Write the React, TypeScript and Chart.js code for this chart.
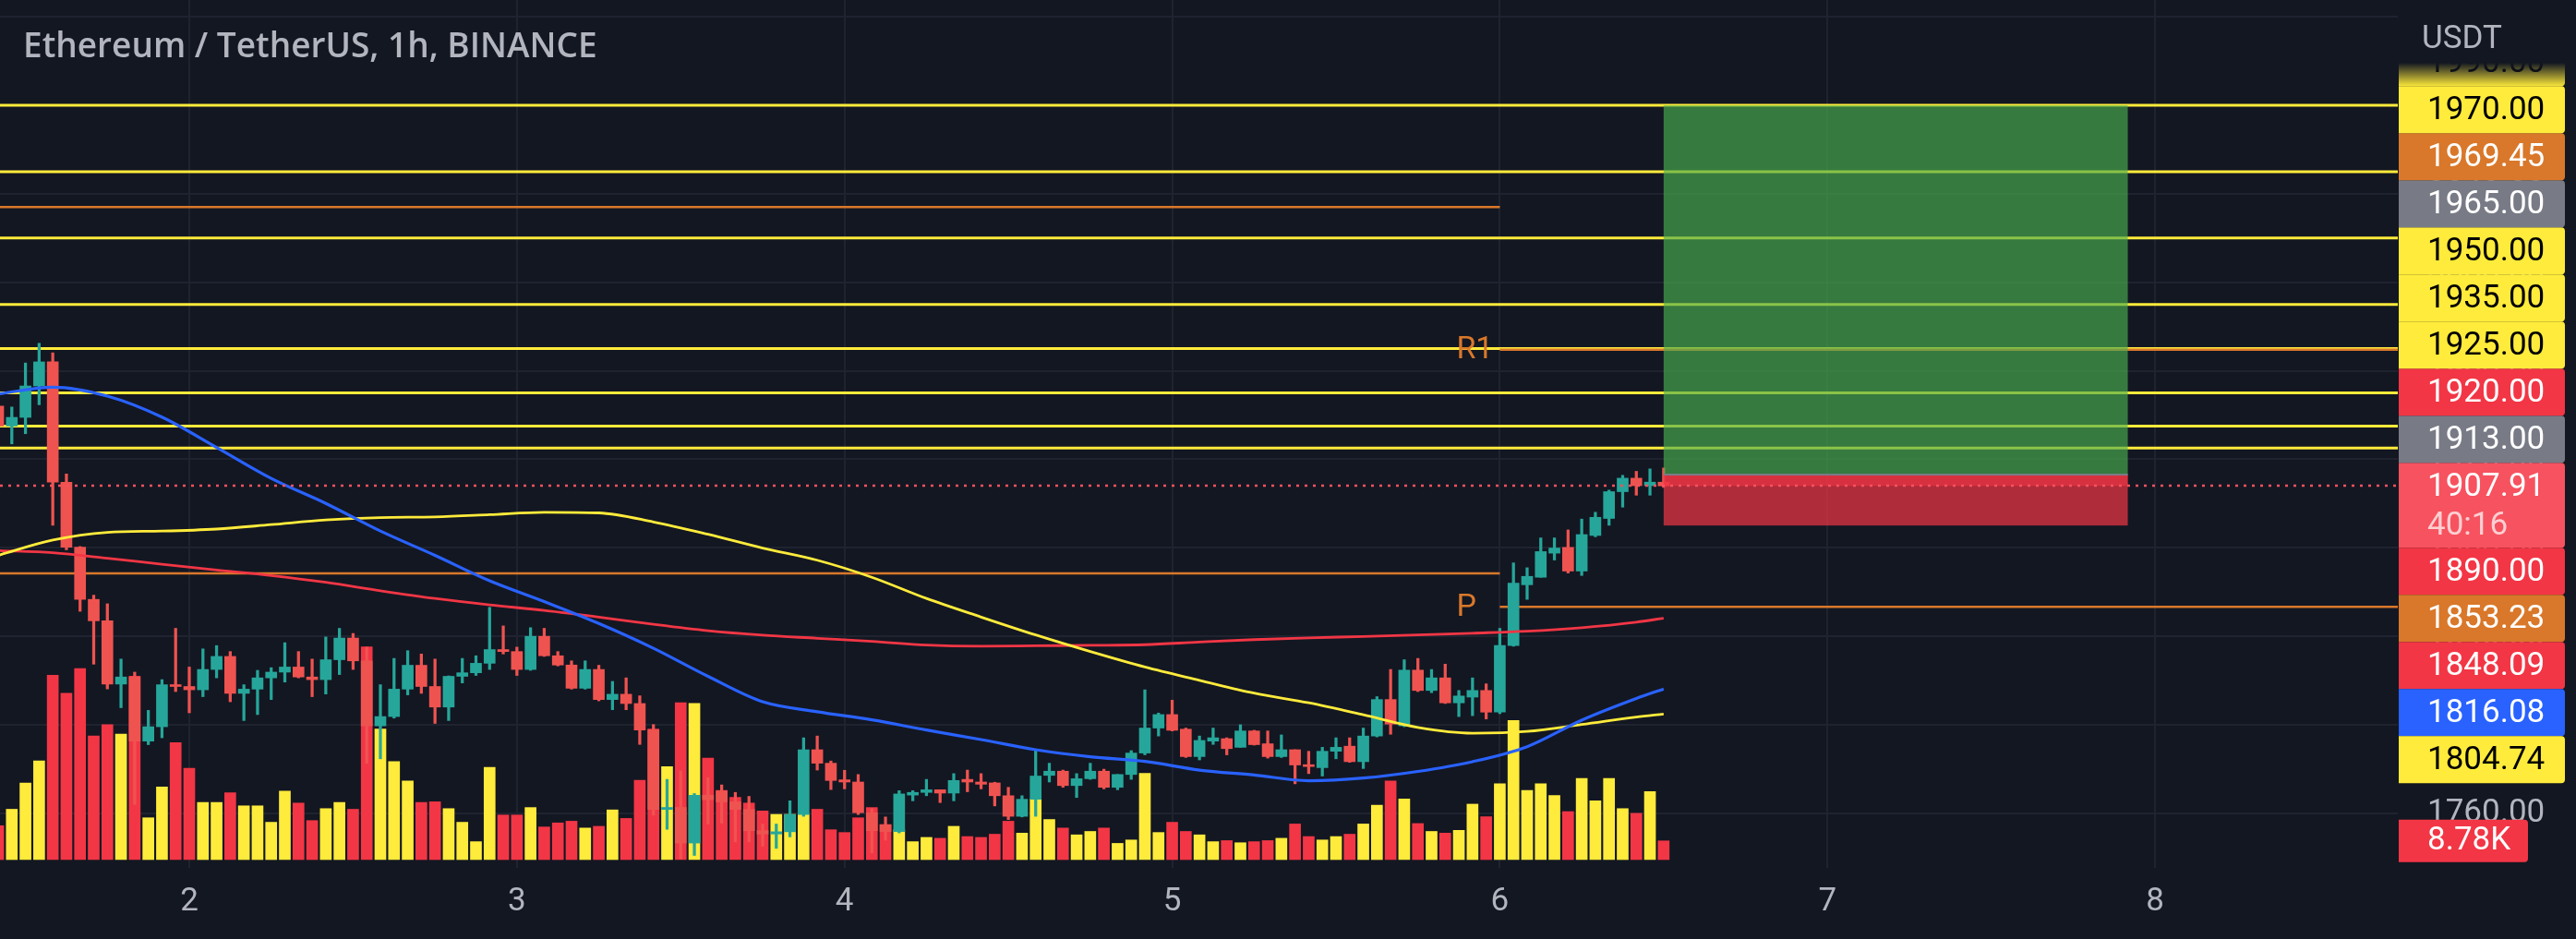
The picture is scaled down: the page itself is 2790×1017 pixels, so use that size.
import React, { useEffect, useRef } from 'react';
import { Chart, registerables } from 'chart.js';

Chart.register(...registerables);

// ---------------- data ----------------
const TITLE = 'Ethereum / TetherUS, 1h, BINANCE';
const QUOTE = 'USDT';
const COUNTDOWN = '40:16';

// candle index 0 = hour 10 counted from day 1 00:00 (hourly candles)
const FIRST_CANDLE_HOUR = 10;

const opens = [
  1944, 1935, 1938.9, 1953.1, 1964, 1909.6, 1880.2, 1856.6, 1846.9, 1818.3,
  1821.5, 1792.5, 1799, 1818, 1817.2, 1815.7, 1824.9, 1830.8, 1814.1, 1816,
  1821.1, 1823.7, 1826, 1821.5, 1820.3, 1829.3, 1839.1, 1828.8, 1799.4, 1803.6,
  1816, 1826.8, 1817.2, 1807.9, 1821.8, 1823.4, 1827.7, 1833.9, 1833, 1824.9,
  1839.9, 1831.1, 1826.9, 1816.4, 1824.9, 1811.3, 1813.7, 1809.5, 1797.5, 1761.6,
  1762.5, 1746.4, 1768, 1770, 1765, 1761.6, 1752, 1750.5, 1751.5, 1759.3,
  1788.6, 1782.5, 1775, 1774, 1760.1, 1754.7, 1751.6, 1768.1, 1769.3, 1770.5,
  1769, 1775.2, 1774, 1773.6, 1767.8, 1758.5, 1766.2, 1777, 1778.9, 1772.4,
  1775.5, 1778.9, 1771.6, 1777.4, 1787.1, 1798.4, 1804.5, 1797.9, 1785.5, 1792.5,
  1793.6, 1789.7, 1797.1, 1791.3, 1785.5, 1788.6, 1781.7, 1780.5, 1787.9, 1790.2,
  1783.2, 1794.8, 1811.3, 1799.4, 1824.6, 1815.4, 1821.1, 1809.8, 1812.4, 1815.4,
  1805.6, 1835.7, 1863.2, 1866.6, 1877.5, 1880.1, 1869.4, 1885.5, 1893.2, 1905.3,
  1911.4, 1908, 1909.6
];
const highs = [
  1946, 1943.6, 1963.5, 1972.4, 1968.1, 1913.3, 1880.5, 1858.5, 1854.6, 1829.6,
  1823.7, 1806.4, 1820.3, 1843.5, 1826, 1834.2, 1835.7, 1833, 1818, 1824.5,
  1825.7, 1837, 1833, 1829.6, 1839.6, 1843.5, 1841.2, 1835, 1818, 1829.9,
  1833.4, 1831.9, 1829.6, 1822, 1829.9, 1831.1, 1853, 1844.6, 1835, 1843.8,
  1843.5, 1833, 1828.8, 1828.8, 1826.8, 1819.5, 1821.1, 1813, 1800, 1775.2,
  1779, 1768.8, 1776, 1772.7, 1769.3, 1767.5, 1755, 1755, 1765.5, 1794,
  1794.8, 1783.5, 1779.3, 1777.4, 1762, 1758.2, 1770.1, 1770.1, 1775.2, 1770.5,
  1777.8, 1779.4, 1777.8, 1773.9, 1771.6, 1767.8, 1788.6, 1782.5, 1779.4, 1777.8,
  1782.5, 1779.8, 1777.4, 1788.2, 1815.7, 1805.2, 1811, 1798.4, 1794.8, 1798.4,
  1794, 1799.9, 1797.4, 1797.1, 1795.3, 1788.6, 1787.9, 1789.7, 1794, 1794,
  1798.4, 1812.6, 1824.9, 1829.3, 1829.9, 1824.9, 1827.3, 1815.4, 1821.1, 1818.4,
  1843.5, 1873.1, 1870.9, 1884.4, 1884.4, 1888, 1892.9, 1896, 1906, 1912.7,
  1914.5, 1915.6, 1916
];
const lows = [
  1933, 1926.9, 1931.5, 1944.6, 1890.1, 1879, 1851.2, 1827.3, 1816.1, 1807.6,
  1763.9, 1790.9, 1794, 1814.9, 1805.3, 1812.6, 1821.1, 1810.3, 1801.8, 1804.5,
  1811.3, 1819.2, 1821.1, 1812.6, 1813.8, 1822.6, 1824.9, 1782.5, 1784.5, 1802.9,
  1813.4, 1814.1, 1800.5, 1801.8, 1818.8, 1822.2, 1824.9, 1831.9, 1822.2, 1824.5,
  1830.8, 1826.5, 1816, 1816, 1810.7, 1806.7, 1806.7, 1791, 1759, 1752.6,
  1739.2, 1740.8, 1755, 1755.4, 1746.9, 1746.9, 1745, 1744, 1749.2, 1758.5,
  1779.4, 1770.6, 1770.9, 1759.3, 1742, 1747.7, 1751, 1765.5, 1767.8, 1764.7,
  1765.5, 1769.6, 1770.9, 1763.2, 1757, 1758.2, 1758.5, 1774, 1771.6, 1767,
  1775.2, 1770.9, 1770.5, 1775.2, 1786.3, 1794.8, 1797.1, 1785.1, 1784, 1791,
  1786.3, 1789.7, 1790.7, 1784.8, 1785.1, 1773.2, 1777.8, 1776.7, 1784.5, 1782.9,
  1780.1, 1794.4, 1795.6, 1799, 1814.9, 1814.4, 1809.5, 1803.6, 1804, 1802.5,
  1804.9, 1835.4, 1856.6, 1866.6, 1874.4, 1868.5, 1867.4, 1884.9, 1890.1, 1898.3,
  1903.7, 1903.7, 1907.2
];
const closes = [
  1935, 1938.9, 1953.1, 1964, 1909.6, 1880.2, 1856.6, 1846.9, 1818.3, 1821.5,
  1792.5, 1799, 1818, 1817.2, 1815.7, 1824.9, 1830.8, 1814.1, 1816, 1821.1,
  1823.7, 1826, 1821.5, 1820.3, 1829.3, 1839.1, 1828.8, 1799.4, 1803.6, 1816,
  1826.8, 1817.2, 1807.9, 1821.8, 1823.4, 1827.7, 1833.9, 1833, 1824.9, 1839.9,
  1831.1, 1826.9, 1816.4, 1824.9, 1811.3, 1813.7, 1809.5, 1797.5, 1761.6, 1762.5,
  1746.4, 1768, 1766, 1765, 1761.6, 1752, 1750.5, 1751.5, 1759.3, 1788.6,
  1782.5, 1774.7, 1774, 1760.1, 1752, 1751.6, 1768.6, 1769.3, 1770.5, 1769,
  1774.7, 1774, 1773, 1767.8, 1758.5, 1766.2, 1776.7, 1778.9, 1772.4, 1775.5,
  1778.9, 1771.6, 1777.4, 1787.1, 1798.4, 1804.5, 1797.4, 1785.5, 1792.8, 1794,
  1789.1, 1797.1, 1790.9, 1785.5, 1788.6, 1781.7, 1781, 1787.9, 1789.7, 1783.2,
  1794.8, 1811.3, 1800.2, 1824.6, 1815.4, 1821.1, 1809.8, 1812.9, 1815.4, 1805.6,
  1835.7, 1863.9, 1867, 1878.2, 1879.8, 1869.4, 1885.9, 1893.7, 1905.3, 1911.4,
  1908, 1909.6, 1907.91
];
// volume in thousands of ETH
const volumesK = [
  15.9, 23.6, 35.9, 46.3, 86.4, 78, 89.6, 58, 63.3, 58.8,
  86, 19.6, 34, 54.8, 42.8, 26.8, 26.8, 31.3, 25.2, 25.2,
  17.5, 32.1, 26.5, 18.3, 23.9, 26.8, 23.6, 99.7, 61.2, 46,
  36.9, 26.8, 27.1, 23.9, 17.5, 8.4, 43.3, 20.9, 20.9, 24.4,
  15.3, 17.2, 18, 14.8, 15.6, 23.3, 19.3, 37.2, 61.2, 43.6,
  73.6, 73.2, 47.6, 32.4, 29.2, 26.5, 22.8, 21.2, 21.2, 21.2,
  23.6, 14, 12.7, 19.6, 24.4, 16.4, 14, 8.4, 10.4, 10,
  15.6, 10.8, 10.4, 11.9, 18, 12.4, 28.4, 18.8, 14.8, 11.6,
  13.2, 14.8, 7.6, 9.2, 40.4, 12.7, 17.5, 13.2, 11.6, 8.4,
  8.9, 7.9, 8.4, 8.9, 10, 16.7, 10.8, 9.2, 10.8, 11.9,
  16.7, 25.5, 36.9, 28.4, 16.9, 13.2, 12.4, 13.7, 26, 20.1,
  35.6, 65.2, 32.4, 35.6, 30, 22.5, 38, 27.6, 38, 23.9,
  21.7, 31.9, 8.78
];

// moving averages read at these hours
const maHours = [10, 14, 18, 22, 26, 30, 34, 38, 42, 46, 50, 54, 58, 62, 66, 70, 74, 78, 82, 86, 90, 94, 98, 102, 106, 110, 114, 118, 122, 126, 130, 132];
const blueMa = [1949.5, 1952.5, 1948.5, 1939, 1925.3, 1911.3, 1900, 1887.5, 1876.5, 1865, 1855.6, 1845.7, 1834.5, 1821.8, 1810.3, 1805.8, 1802.1, 1797.5, 1793.2, 1788.6, 1785.4, 1783.3, 1779.4, 1777.2, 1774.6, 1775.8, 1778.8, 1783.2, 1790, 1802, 1811.8, 1816.08];
const yellowMa = [1876.5, 1883.4, 1886.9, 1887.5, 1888.4, 1890.4, 1892.5, 1893.6, 1893.9, 1894.9, 1896, 1895.7, 1891.6, 1886, 1879.8, 1874.3, 1866.6, 1857, 1848.6, 1840.5, 1833, 1826, 1820, 1814.2, 1809.8, 1804.4, 1798.7, 1796.1, 1796.9, 1800, 1803.4, 1804.74];
const redMa = [1878.7, 1877.7, 1875.2, 1872.5, 1869.9, 1867.4, 1864.3, 1860.5, 1857, 1854.1, 1851.6, 1848.6, 1845.3, 1842.4, 1840.4, 1839, 1837.6, 1835.9, 1835.4, 1835.6, 1835.8, 1836.1, 1837.3, 1838.4, 1839.2, 1839.8, 1840.5, 1841.3, 1842.2, 1843.8, 1846.3, 1848.09];

// time axis
const dayTickHours = [24, 48, 72, 96, 120, 144, 168];
const dayTickLabels = ['2', '3', '4', '5', '6', '7', '8'];
// price axis grid
const priceTicks = [1760, 1800, 1840, 1880, 1920, 1960, 2000, 2040, 2080, 2120];

// drawn levels
const yellowLevels = [2080, 2050, 2020, 1990, 1970, 1950, 1935, 1925];
const prevPivotLevels = [2034, 1868.4];
const pivotLevels = [1969.45, 1853.23];
const pivotNames = ['R1', 'P'];
const pivotStartHour = 120;

// long position tool
const positionStartHour = 132;
const positionEndHour = 166;
const positionTarget = 2080;
const positionEntry = 1913;
const positionStop = 1890;

// price-scale labels
const axisLabelPrices = [1990, 1970, 1969.45, 1965, 1950, 1935, 1925, 1920, 1913, 1890, 1853.23, 1848.09, 1816.08, 1804.74];
const axisLabelKinds = ['yellow', 'yellow', 'orange', 'grey', 'yellow', 'yellow', 'yellow', 'red', 'grey', 'red', 'orange', 'red', 'blue', 'yellow'];

// visible ranges
const HOUR_RANGE = [10.135, 185.78];
const PRICE_RANGE = [1735.16, 2127.64];
const VOLUME_RANGE = [-3.9, 403];

// ---------------- style ----------------
const W = 2790;
const H = 1017;
const AXIS_W = 193;
const TIME_H = 77;
const BG = '#131722';
const GRID = '#1f2330';
const TEXT = '#B2B5BE';
const UP = '#26A69A';
const DOWN = '#EF5350';
const VOL_UP = '#FFEB3B';
const VOL_DOWN = '#F23645';
const YELLOW = '#FFEB3B';
const ORANGE = '#D9782A';
const RED = '#F23645';
const BLUE = '#2962FF';
const GREY = '#787B86';
const PRICE_RED = '#F7525F';
const KIND_STYLE: Record<string, { bg: string; fg: string }> = {
  yellow: { bg: YELLOW, fg: '#000000' },
  orange: { bg: ORANGE, fg: '#ffffff' },
  grey: { bg: GREY, fg: '#ffffff' },
  red: { bg: RED, fg: '#ffffff' },
  blue: { bg: BLUE, fg: '#ffffff' },
};
const AXIS_FONT = '35px Roboto';
const LABEL_H = 51;

function hline(ctx: CanvasRenderingContext2D, x1: number, x2: number, y: number) {
  ctx.beginPath();
  ctx.moveTo(x1, y);
  ctx.lineTo(x2, y);
  ctx.stroke();
}

function labelBox(ctx: CanvasRenderingContext2D, x: number, top: number, w: number, h: number, color: string) {
  ctx.fillStyle = color;
  ctx.beginPath();
  (ctx as any).roundRect(x, top, w, h, [0, 4, 4, 0]);
  ctx.fill();
}

function lastCandleUp() {
  const i = closes.length - 1;
  return closes[i] >= opens[i];
}

const tvPlugin = {
  id: 'tvOverlay',
  beforeDraw(chart: any) {
    const { ctx, width, height, chartArea: ca } = chart;
    const xs = chart.scales.x;
    const ys = chart.scales.y;
    ctx.save();
    ctx.fillStyle = BG;
    ctx.fillRect(0, 0, width, height);
    ctx.strokeStyle = GRID;
    ctx.lineWidth = 2;
    priceTicks.forEach((p) => hline(ctx, ca.left, ca.right, Math.round(ys.getPixelForValue(p))));
    dayTickHours.forEach((h) => {
      const px = Math.round(xs.getPixelForValue(h));
      ctx.beginPath();
      ctx.moveTo(px, ca.top);
      ctx.lineTo(px, ca.bottom);
      ctx.stroke();
    });
    ctx.restore();
  },
  beforeDatasetsDraw(chart: any) {
    const { ctx, chartArea: ca } = chart;
    const xs = chart.scales.x;
    const ys = chart.scales.y;
    const pivotX = xs.getPixelForValue(pivotStartHour);
    ctx.save();
    ctx.lineWidth = 3;
    ctx.strokeStyle = YELLOW;
    yellowLevels.forEach((p) => hline(ctx, ca.left, ca.right, ys.getPixelForValue(p)));
    ctx.lineWidth = 2.5;
    ctx.strokeStyle = ORANGE;
    prevPivotLevels.forEach((p) => hline(ctx, ca.left, pivotX, ys.getPixelForValue(p)));
    pivotLevels.forEach((p) => hline(ctx, pivotX, ca.right, ys.getPixelForValue(p)));
    ctx.restore();
  },
  afterDatasetsDraw(chart: any) {
    const { ctx, chartArea: ca } = chart;
    const xs = chart.scales.x;
    const ys = chart.scales.y;
    const current = closes[closes.length - 1];
    ctx.save();
    ctx.beginPath();
    ctx.rect(ca.left, ca.top, ca.right - ca.left, ca.bottom - ca.top);
    ctx.clip();
    // position tool
    const bx1 = xs.getPixelForValue(positionStartHour);
    const bx2 = xs.getPixelForValue(positionEndHour);
    const yT = ys.getPixelForValue(positionTarget);
    const yE = ys.getPixelForValue(positionEntry);
    const yS = ys.getPixelForValue(positionStop);
    const yC = ys.getPixelForValue(current);
    ctx.fillStyle = 'rgba(76,175,80,0.65)';
    ctx.fillRect(bx1, yT, bx2 - bx1, yE - yT);
    ctx.fillStyle = 'rgba(242,54,69,0.7)';
    ctx.fillRect(bx1, yE, bx2 - bx1, yS - yE);
    ctx.fillStyle = 'rgba(242,54,69,0.6)';
    ctx.fillRect(bx1, yE, bx2 - bx1, yC - yE);
    ctx.strokeStyle = GREY;
    ctx.lineWidth = 2;
    hline(ctx, bx1, bx2, yE);
    // current price dotted line
    ctx.strokeStyle = PRICE_RED;
    ctx.lineWidth = 2.5;
    ctx.setLineDash([3, 6]);
    hline(ctx, ca.left, ca.right, Math.round(yC));
    ctx.setLineDash([]);
    // pivot names
    const pivotX = xs.getPixelForValue(pivotStartHour);
    ctx.fillStyle = ORANGE;
    ctx.font = '34px Roboto';
    ctx.textAlign = 'left';
    ctx.textBaseline = 'middle';
    pivotNames.forEach((n, i) => ctx.fillText(n, pivotX - 47, ys.getPixelForValue(pivotLevels[i]) + 1));
    ctx.restore();
  },
  afterDraw(chart: any) {
    const { ctx, chartArea: ca } = chart;
    const xs = chart.scales.x;
    const ys = chart.scales.y;
    const yv = chart.scales.yv;
    const current = closes[closes.length - 1];
    const boxX = ca.right + 1;
    const boxW = 180;
    const textX = ca.right + 32;
    ctx.save();
    ctx.font = AXIS_FONT;
    ctx.textBaseline = 'middle';
    ctx.textAlign = 'left';
    // plain tick labels
    ctx.fillStyle = TEXT;
    priceTicks.forEach((p) => ctx.fillText(p.toFixed(2), textX, ys.getPixelForValue(p) + 1));

    // current price label (anchor)
    const yC = ys.getPixelForValue(current);
    const curTop = yC - 25;
    const curH = 92;
    labelBox(ctx, boxX, curTop, boxW, curH, PRICE_RED);
    ctx.fillStyle = '#ffffff';
    ctx.fillText(current.toFixed(2), textX, curTop + 27);
    ctx.fillStyle = 'rgba(255,255,255,0.72)';
    ctx.fillText(COUNTDOWN, textX, curTop + 69);

    const items = axisLabelPrices.map((p, i) => ({ p, kind: axisLabelKinds[i] }));
    const drawItem = (it: { p: number; kind: string }, center: number) => {
      const st = KIND_STYLE[it.kind];
      labelBox(ctx, boxX, center - LABEL_H / 2, boxW, LABEL_H, st.bg);
      ctx.fillStyle = st.fg;
      ctx.fillText(it.p.toFixed(2), textX, center + 1);
    };
    // above: push upward
    let edge = curTop;
    items.filter((it) => it.p > current).sort((a, b) => a.p - b.p).forEach((it) => {
      const c = Math.min(ys.getPixelForValue(it.p), edge - LABEL_H / 2);
      drawItem(it, c);
      edge = c - LABEL_H / 2;
    });
    // below: push downward
    edge = curTop + curH;
    items.filter((it) => it.p < current).sort((a, b) => b.p - a.p).forEach((it) => {
      const c = Math.max(ys.getPixelForValue(it.p), edge + LABEL_H / 2);
      drawItem(it, c);
      edge = c + LABEL_H / 2;
    });

    // volume label
    const lastVol = volumesK[volumesK.length - 1];
    const vy = yv.getPixelForValue(lastVol);
    labelBox(ctx, boxX, vy - 23, 140, 46, lastCandleUp() ? VOL_UP : RED);
    ctx.fillStyle = '#ffffff';
    ctx.fillText(lastVol.toFixed(2) + 'K', textX, vy + 1);

    // header over the top of the price scale
    ctx.fillStyle = BG;
    ctx.fillRect(ca.right, 0, chart.width - ca.right, 68);
    const g = ctx.createLinearGradient(0, 68, 0, 94);
    g.addColorStop(0, 'rgba(19,23,34,1)');
    g.addColorStop(1, 'rgba(19,23,34,0)');
    ctx.fillStyle = g;
    ctx.fillRect(ca.right, 68, chart.width - ca.right, 26);
    ctx.fillStyle = TEXT;
    ctx.textBaseline = 'alphabetic';
    ctx.fillText(QUOTE, ca.right + 26, 52);

    // time axis labels
    ctx.textAlign = 'center';
    ctx.textBaseline = 'middle';
    ctx.fillStyle = TEXT;
    dayTickHours.forEach((h, i) => ctx.fillText(dayTickLabels[i], xs.getPixelForValue(h), ca.bottom + 37));

    // title
    ctx.textAlign = 'left';
    ctx.textBaseline = 'alphabetic';
    ctx.font = '600 37px "Open Sans"';
    ctx.fillStyle = TEXT;
    ctx.fillText(TITLE, 25, 62);
    ctx.restore();
  },
};

export default function App() {
  const canvasRef = useRef<HTMLCanvasElement | null>(null);

  useEffect(() => {
    document.body.style.margin = '0';
    document.body.style.background = BG;
    const canvas = canvasRef.current;
    if (!canvas) return;

    const hours = opens.map((_, i) => FIRST_CANDLE_HOUR + i);
    const candleColors = opens.map((o, i) => (closes[i] >= o ? UP : DOWN));
    const volumeColors = opens.map((o, i) => (closes[i] >= o ? VOL_UP : VOL_DOWN));

    const maLine = (values: number[], color: string, width: number, order: number) => ({
      type: 'line' as const,
      data: maHours.map((h, i) => ({ x: h, y: values[i] })),
      borderColor: color,
      borderWidth: width,
      pointRadius: 0,
      cubicInterpolationMode: 'monotone' as const,
      fill: false,
      yAxisID: 'y',
      order,
    });

    const chart = new Chart(canvas, {
      type: 'bar',
      data: {
        datasets: [
          {
            type: 'bar',
            data: hours.map((h, i) => ({ x: h, y: volumesK[i] })),
            backgroundColor: volumeColors,
            barThickness: 12,
            grouped: false,
            borderWidth: 0,
            yAxisID: 'yv',
            order: 6,
          } as any,
          {
            type: 'bar',
            data: hours.map((h, i) => ({ x: h, y: [lows[i], highs[i]] })),
            backgroundColor: candleColors,
            barThickness: 2.6,
            grouped: false,
            borderWidth: 0,
            yAxisID: 'y',
            order: 5,
          } as any,
          {
            type: 'bar',
            data: hours.map((h, i) => ({ x: h, y: [opens[i], closes[i]] })),
            backgroundColor: candleColors,
            barThickness: 12,
            minBarLength: 2,
            grouped: false,
            borderWidth: 0,
            yAxisID: 'y',
            order: 4,
          } as any,
          maLine(redMa, '#F23645', 2.8, 3) as any,
          maLine(yellowMa, '#FFEB3B', 2.8, 2) as any,
          maLine(blueMa, '#2962FF', 3.2, 1) as any,
        ],
      },
      options: {
        animation: false,
        responsive: false,
        devicePixelRatio: 1,
        events: [],
        layout: { padding: { left: 0, top: 0, right: AXIS_W, bottom: TIME_H } },
        plugins: { legend: { display: false }, tooltip: { enabled: false } },
        scales: {
          x: { type: 'linear', min: HOUR_RANGE[0], max: HOUR_RANGE[1], display: false, offset: false },
          y: { type: 'linear', min: PRICE_RANGE[0], max: PRICE_RANGE[1], display: false, position: 'right' },
          yv: { type: 'linear', min: VOLUME_RANGE[0], max: VOLUME_RANGE[1], display: false },
        },
      } as any,
      plugins: [tvPlugin],
    });
    return () => chart.destroy();
  }, []);

  return (
    <div style={{ width: W, height: H, background: BG, overflow: 'hidden' }}>
      <canvas ref={canvasRef} width={W} height={H} style={{ display: 'block', width: W, height: H }} />
    </div>
  );
}
